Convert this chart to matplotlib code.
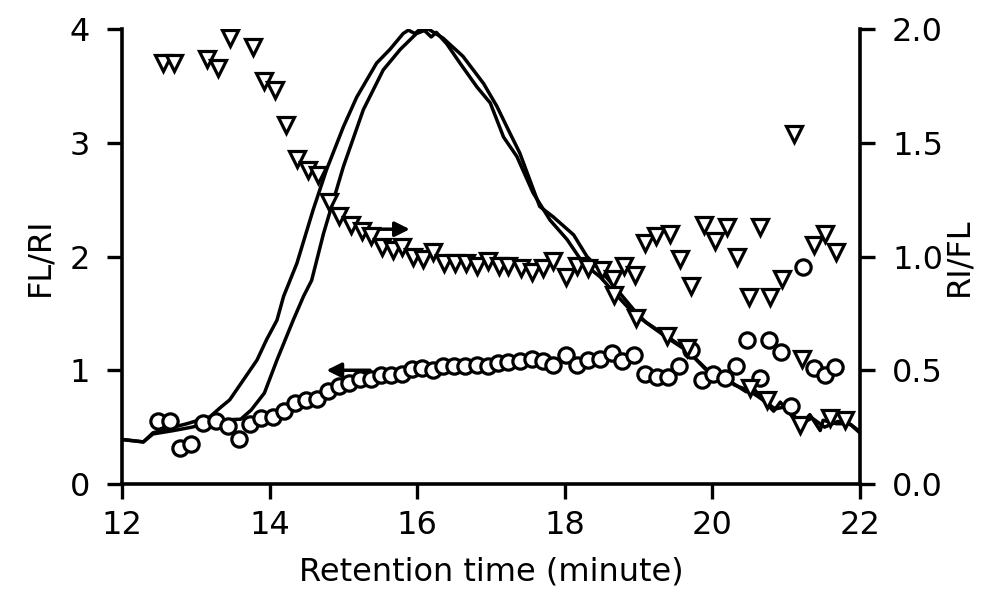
import matplotlib
matplotlib.use("Agg")
import matplotlib.pyplot as plt

# --- Data --- #
# chromatogram traces (left axis, FL/RI scale)
trace_a_x = [12.02, 12.29, 12.42, 12.70, 12.88, 13.19, 13.33, 13.46, 13.64, 13.83, 13.96, 14.10,
             14.19, 14.37, 14.59, 14.77, 15.00, 15.18, 15.45, 15.63, 15.81, 15.88, 15.97, 16.06,
             16.19, 16.26, 16.40, 16.58, 16.81, 16.99, 17.17, 17.35, 17.57, 17.80, 18.03, 18.25,
             18.48, 18.66, 18.93, 19.06, 19.38, 19.65, 19.92, 20.10, 20.28, 20.46, 20.55, 20.64,
             20.83, 20.92, 21.01, 21.19, 21.32, 21.46, 21.50, 21.68, 21.86, 21.98]
trace_a_y = [0.39, 0.37, 0.45, 0.50, 0.53, 0.59, 0.67, 0.74, 0.91, 1.09, 1.27, 1.44,
             1.65, 1.94, 2.41, 2.76, 3.14, 3.40, 3.70, 3.82, 3.96, 3.99, 3.96, 4.01,
             3.93, 3.97, 3.87, 3.70, 3.49, 3.35, 3.05, 2.88, 2.56, 2.32, 2.15, 1.94,
             1.82, 1.69, 1.50, 1.44, 1.30, 1.18, 1.00, 0.93, 0.885, 0.81, 0.85, 0.77,
             0.64, 0.72, 0.65, 0.51, 0.61, 0.47, 0.56, 0.53, 0.53, 0.46]

trace_b_x = [12.02, 12.29, 12.42, 12.70, 12.95, 13.30, 13.61, 13.75, 13.93, 14.10, 14.32, 14.46,
             14.57, 14.73, 15.00, 15.27, 15.54, 15.77, 15.99, 16.15, 16.35, 16.62, 16.90, 17.08,
             17.26, 17.39, 17.66, 17.84, 18.12, 18.30, 18.48, 18.68, 18.95, 19.10, 19.40, 19.68,
             19.95, 20.15, 20.30, 20.50, 20.66, 20.85, 21.00, 21.20, 21.35, 21.52, 21.70, 21.88, 21.98]
trace_b_y = [0.39, 0.37, 0.44, 0.47, 0.50, 0.56, 0.57, 0.65, 0.80, 1.09, 1.44, 1.65,
             1.79, 2.20, 2.79, 3.29, 3.64, 3.82, 3.96, 4.00, 3.92, 3.76, 3.52, 3.32,
             3.08, 2.91, 2.44, 2.35, 2.19, 2.00, 1.88, 1.73, 1.52, 1.42, 1.28, 1.16,
             0.99, 0.94, 0.87, 0.82, 0.75, 0.66, 0.68, 0.53, 0.58, 0.50, 0.55, 0.52, 0.47]

# FL/RI ratio (circles, left axis)
fl_ri_x = [12.49, 12.65, 12.79, 12.93, 13.10, 13.27, 13.43, 13.58, 13.73, 13.89, 14.05, 14.20,
           14.34, 14.49, 14.64, 14.79, 14.94, 15.08, 15.23, 15.37, 15.51, 15.65, 15.79, 15.93,
           16.07, 16.21, 16.35, 16.50, 16.65, 16.81, 16.96, 17.10, 17.23, 17.39, 17.55, 17.70,
           17.84, 18.02, 18.16, 18.32, 18.48, 18.64, 18.78, 18.94, 19.09, 19.25, 19.40, 19.55,
           19.71, 19.86, 20.01, 20.17, 20.32, 20.47, 20.64, 20.77, 20.93, 21.07, 21.23, 21.37,
           21.52, 21.66]
fl_ri_y = [0.55, 0.55, 0.32, 0.35, 0.54, 0.55, 0.51, 0.40, 0.53, 0.58, 0.59, 0.64,
           0.71, 0.74, 0.75, 0.82, 0.86, 0.89, 0.92, 0.92, 0.96, 0.96, 0.97, 1.01,
           1.02, 1.00, 1.04, 1.04, 1.04, 1.05, 1.04, 1.06, 1.07, 1.08, 1.10, 1.08,
           1.05, 1.13, 1.05, 1.09, 1.10, 1.15, 1.08, 1.13, 0.97, 0.94, 0.94, 1.04,
           1.18, 0.91, 0.97, 0.93, 1.04, 1.27, 0.93, 1.27, 1.16, 0.69, 1.91, 1.02,
           0.96, 1.03]

# RI/FL ratio (triangles, right axis)
ri_fl_x = [12.56, 12.70, 13.15, 13.30, 13.47, 13.78, 13.92, 14.08, 14.22, 14.37, 14.52, 14.66,
           14.80, 14.94, 15.11, 15.25, 15.38, 15.53, 15.67, 15.80, 15.94, 16.08, 16.22, 16.37,
           16.51, 16.66, 16.81, 16.96, 17.11, 17.23, 17.40, 17.55, 17.70, 17.84, 18.02, 18.17,
           18.32, 18.50, 18.65, 18.66, 18.80, 18.95, 18.97, 19.09, 19.24, 19.38, 19.42, 19.56,
           19.65, 19.71, 19.88, 20.04, 20.20, 20.34, 20.49, 20.51, 20.65, 20.74, 20.78, 20.94,
           21.10, 21.19, 21.22, 21.38, 21.53, 21.59, 21.68, 21.80]
ri_fl_y = [1.85, 1.85, 1.87, 1.83, 1.96, 1.92, 1.77, 1.73, 1.58, 1.43, 1.38, 1.36,
           1.24, 1.18, 1.14, 1.11, 1.09, 1.04, 1.03, 1.04, 1.00, 0.99, 1.02, 0.97,
           0.97, 0.97, 0.96, 0.98, 0.96, 0.96, 0.95, 0.93, 0.95, 0.98, 0.91, 0.96,
           0.95, 0.94, 0.90, 0.83, 0.96, 0.92, 0.73, 1.06, 1.09, 0.65, 1.10, 0.99,
           0.60, 0.87, 1.14, 1.07, 1.13, 1.00, 0.82, 0.42, 1.13, 0.37, 0.82, 0.90,
           1.54, 0.26, 0.55, 1.05, 1.10, 0.29, 1.02, 0.28]

x_ticks = [12, 14, 16, 18, 20, 22]
left_ticks = [0, 1, 2, 3, 4]
right_ticks = [0.0, 0.5, 1.0, 1.5, 2.0]

# --- Figure setup --- #
plt.rcParams['font.family'] = ['DejaVu Sans']
fs = 23

fig = plt.figure(figsize=(9.9, 5.93), dpi=100)
ax = fig.add_axes([0.1232, 0.1838, 0.7455, 0.7673])
ax2 = ax.twinx()

ax.plot(trace_a_x, trace_a_y, color='black', lw=2.5, zorder=3)
ax.plot(trace_b_x, trace_b_y, color='black', lw=2.5, zorder=3)
ax.plot(fl_ri_x, fl_ri_y, linestyle='none', marker='o', markersize=11,
        markerfacecolor='white', markeredgecolor='black', markeredgewidth=2.3, zorder=4)
ax2.plot(ri_fl_x, ri_fl_y, linestyle='none', marker='v', markersize=11,
         markerfacecolor='white', markeredgecolor='black', markeredgewidth=2.3, zorder=4)

# arrows showing which axis each series belongs to
arrow = dict(arrowstyle='-|>', color='black', lw=2.5, mutation_scale=22,
             shrinkA=0, shrinkB=0)
ax.annotate('', xy=(15.90, 2.24), xytext=(15.45, 2.24), arrowprops=arrow, zorder=5)
ax.annotate('', xy=(14.77, 1.00), xytext=(15.36, 1.00), arrowprops=arrow, zorder=5)

# --- Axes styling --- #
ax.set_xlim(12, 22)
ax.set_ylim(0, 4)
ax2.set_ylim(0, 2)
ax.set_xticks(x_ticks)
ax.set_yticks(left_ticks)
ax2.set_yticks(right_ticks)
ax2.set_yticklabels([f"{t:.1f}" for t in right_ticks])

for a in (ax, ax2):
    a.spines['top'].set_visible(False)
    for s in a.spines.values():
        s.set_linewidth(2.6)
    a.tick_params(direction='out', length=11, width=2.4, labelsize=fs, pad=12)
ax.tick_params(axis='x', pad=8)
ax.spines['right'].set_visible(False)
ax2.spines['left'].set_visible(False)
ax2.spines['bottom'].set_visible(False)

ax.set_xlabel("Retention time (minute)", fontsize=fs, labelpad=11)
ax.set_ylabel("FL/RI", fontsize=fs, labelpad=10)
ax2.set_ylabel("RI/FL", fontsize=fs, labelpad=0)

fig.savefig("out.png", dpi=100)
